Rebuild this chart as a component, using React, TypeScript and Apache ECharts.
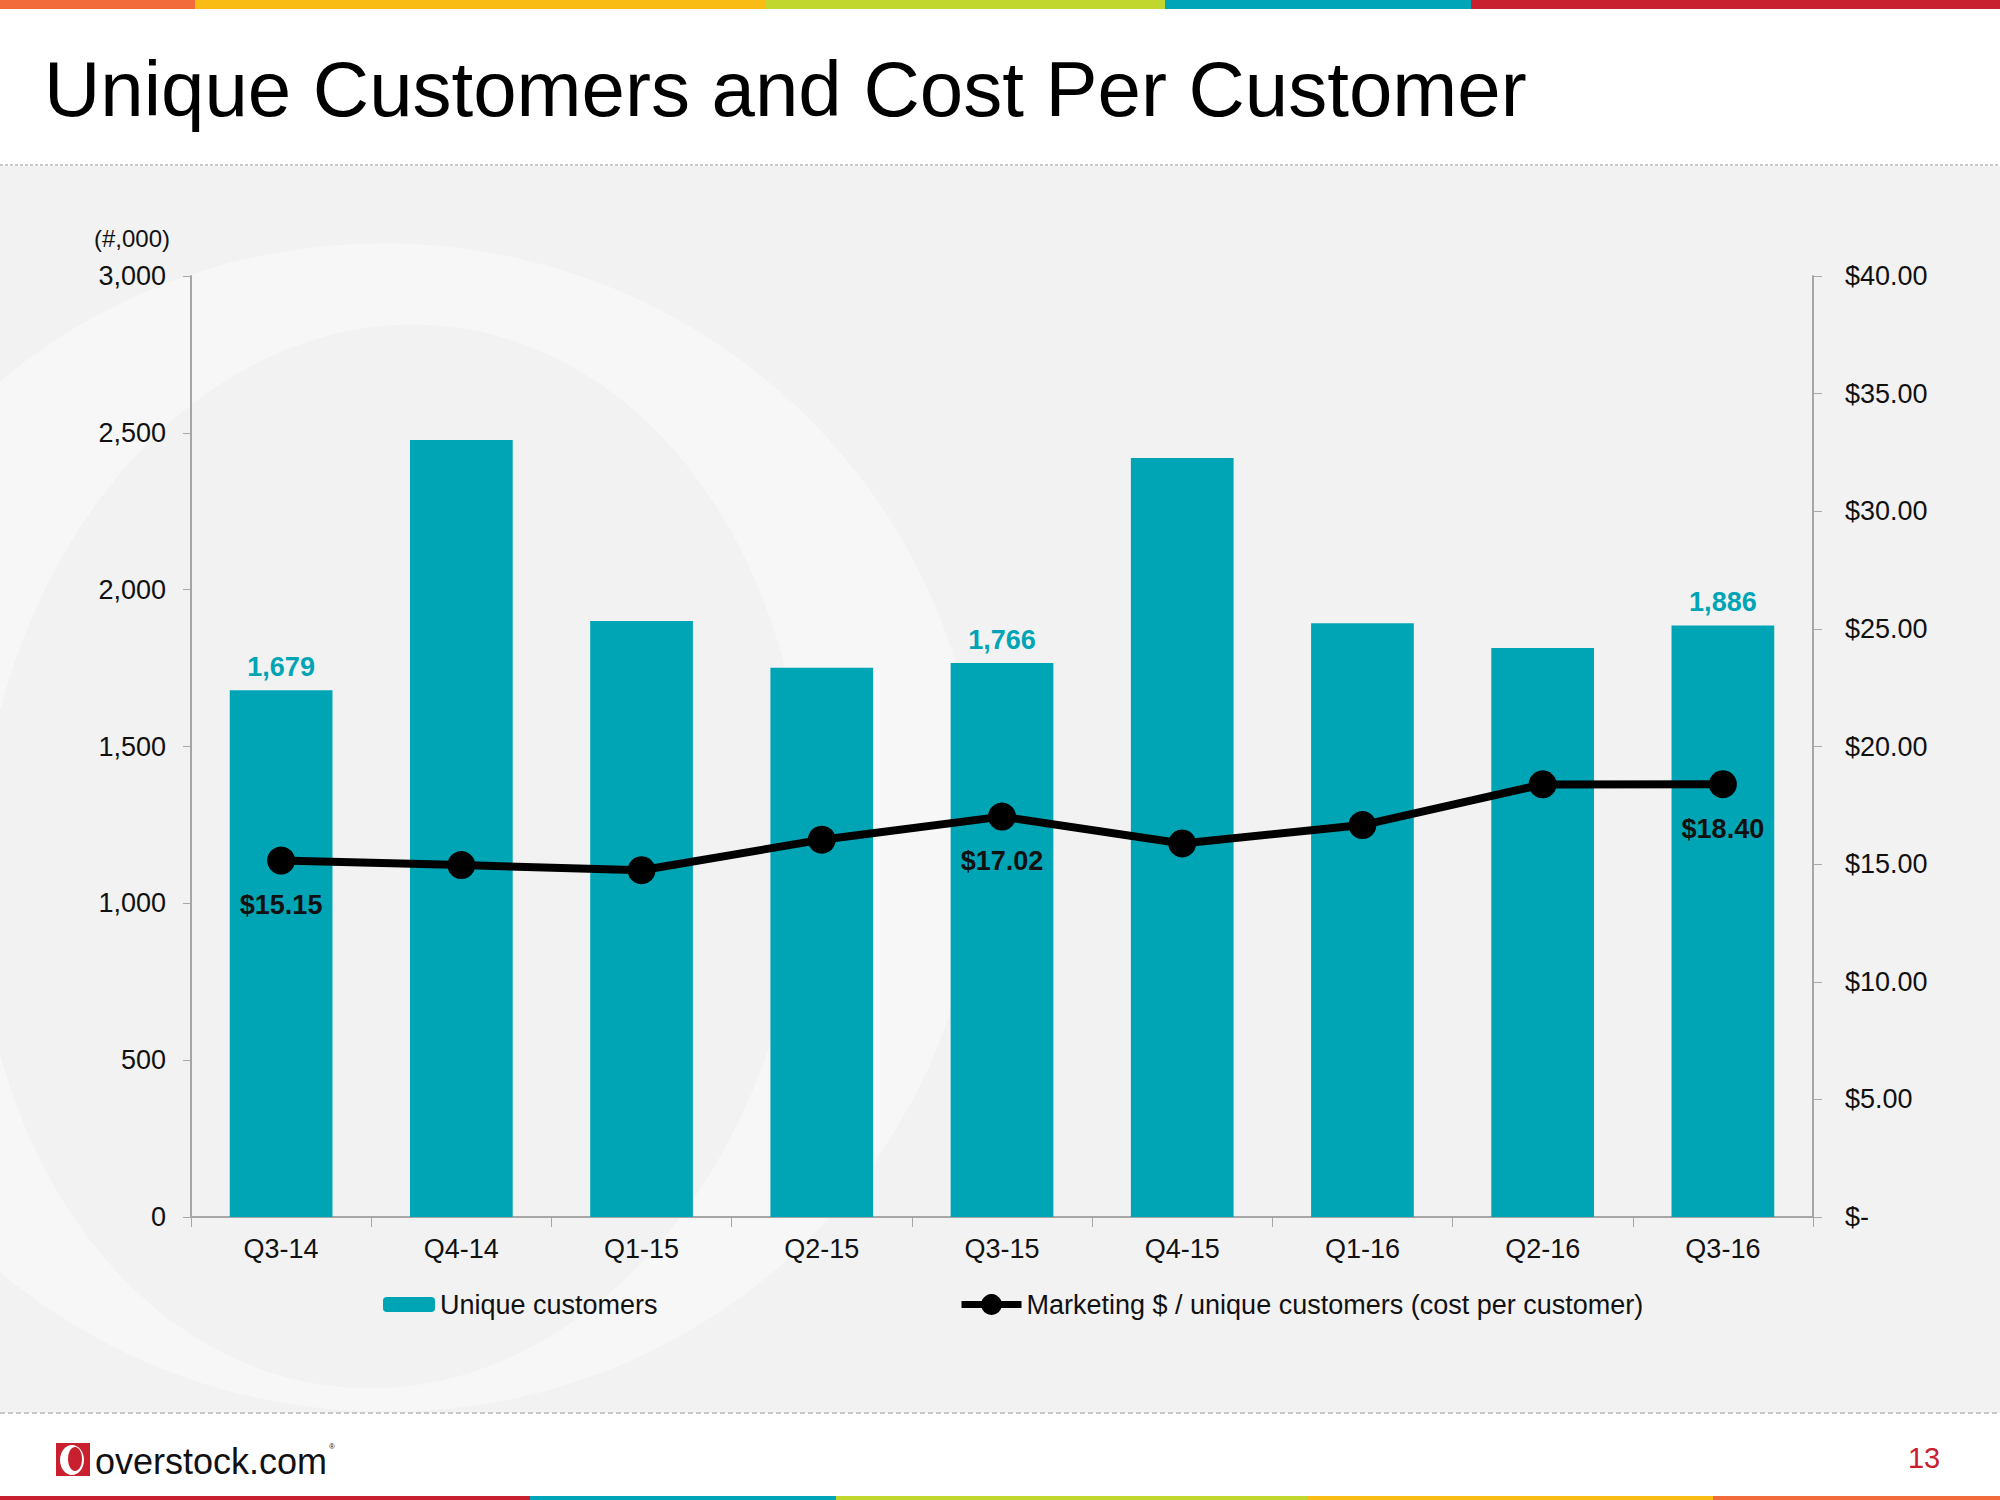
import React, { useEffect, useRef } from 'react';
import * as echarts from 'echarts';

const categories = ['Q3-14', 'Q4-14', 'Q1-15', 'Q2-15', 'Q3-15', 'Q4-15', 'Q1-16', 'Q2-16', 'Q3-16'];
const uniqueCustomers = [1679, 2477, 1900, 1751, 1766, 2420, 1893, 1814, 1886];
const costPerCustomer = [15.15, 14.96, 14.74, 16.04, 17.02, 15.88, 16.66, 18.39, 18.4];
const labeledIndices = [0, 4, 8];
const barName = 'Unique customers';
const lineName = 'Marketing $ / unique customers (cost per customer)';
const titleText = 'Unique Customers and Cost Per Customer';
const leftUnit = '(#,000)';
const pageNumber = '13';

const FONT = '"Liberation Sans", Arial, sans-serif';
const TEAL = '#00A5B5';
const AXIS = '#a6a6a6';

const topBar = [
  { x0: 0, x1: 195, c: '#F26B3A' },
  { x0: 195, x1: 766, c: '#F9BC15' },
  { x0: 766, x1: 1165, c: '#C1D72E' },
  { x0: 1165, x1: 1471, c: '#00A6B7' },
  { x0: 1471, x1: 2000, c: '#C8202F' },
];
const bottomBar = [
  { x0: 0, x1: 530, c: '#C8202F' },
  { x0: 530, x1: 836, c: '#00A6B7' },
  { x0: 836, x1: 1307, c: '#C1D72E' },
  { x0: 1307, x1: 1713, c: '#F9BC15' },
  { x0: 1713, x1: 2000, c: '#F26B3A' },
];

export default function App() {
  const ref = useRef<HTMLDivElement>(null);
  useEffect(() => {
    document.body.style.margin = '0';
    const chart = echarts.init(ref.current!, null, { renderer: 'svg' });
    const graphics: any[] = [
      { type: 'rect', z: -10, shape: { x: 0, y: 166, width: 2000, height: 1247 }, style: { fill: '#f2f2f2' } },
      { type: 'ellipse', z: -9, rotation: -0.08, shape: { cx: 450, cy: 794, rx: 595, ry: 584 }, style: { fill: '#f7f7f7' } },
      { type: 'ellipse', z: -8, rotation: -0.1, shape: { cx: 475, cy: 813, rx: 412, ry: 533 }, style: { fill: '#f2f2f2' } },
      { type: 'line', z: -7, shape: { x1: 0, y1: 165, x2: 2000, y2: 165 }, style: { stroke: '#c9c9c9', lineWidth: 2, lineDash: [3, 2] } },
      { type: 'rect', z: -7, shape: { x: 0, y: 1414, width: 2000, height: 86 }, style: { fill: '#ffffff' } },
      { type: 'line', z: -6, shape: { x1: 0, y1: 1413, x2: 2000, y2: 1413 }, style: { stroke: '#c9c9c9', lineWidth: 2, lineDash: [5, 3] } },
      ...topBar.map((s) => ({ type: 'rect', z: -5, shape: { x: s.x0, y: 0, width: s.x1 - s.x0, height: 9 }, style: { fill: s.c } })),
      ...bottomBar.map((s) => ({ type: 'rect', z: -5, shape: { x: s.x0, y: 1496, width: s.x1 - s.x0, height: 4 }, style: { fill: s.c } })),
      { type: 'rect', z: -5, shape: { x: 56, y: 1443, width: 34, height: 33 }, style: { fill: '#C8202F' } },
      { type: 'ellipse', z: -4, shape: { cx: 72, cy: 1460, rx: 12, ry: 15 }, style: { fill: '#ffffff' } },
      { type: 'ellipse', z: -3, shape: { cx: 75, cy: 1459, rx: 7, ry: 12 }, style: { fill: '#C8202F' } },
      { type: 'text', z: -3, x: 95, y: 1461, style: { text: 'overstock.com', font: '36px ' + FONT, fill: '#111', textVerticalAlign: 'middle' } },
      { type: 'text', z: -3, x: 329, y: 1446, style: { text: '®', font: '8px ' + FONT, fill: '#111', textVerticalAlign: 'middle' } },
      { type: 'text', z: -3, x: 1924, y: 1458, style: { text: pageNumber, font: '29px ' + FONT, fill: '#C8202F', textAlign: 'center', textVerticalAlign: 'middle' } },
    ];

    const option: any = {
      animation: false,
      backgroundColor: '#ffffff',
      textStyle: { fontFamily: FONT },
      title: {
        text: titleText,
        left: 39,
        top: 44,
        textStyle: { fontSize: 78, fontWeight: 'normal', color: '#000', fontFamily: FONT, lineHeight: 80 },
      },
      graphic: { elements: graphics },
      grid: { left: 191, right: 187, top: 276, bottom: 283, containLabel: false },
      legend: [
        {
          data: [barName],
          left: 378,
          top: 1286,
          itemWidth: 52,
          itemHeight: 15,
          textStyle: { fontSize: 27, color: '#111', fontFamily: FONT },
        },
        {
          data: [lineName],
          left: 953,
          top: 1286,
          itemWidth: 60,
          itemHeight: 26,
          lineStyle: { width: 7 },
          textStyle: { fontSize: 27, color: '#111', fontFamily: FONT },
        },
      ],
      xAxis: {
        type: 'category',
        data: categories,
        boundaryGap: true,
        axisLine: { show: true, lineStyle: { color: AXIS, width: 2 } },
        axisTick: { show: true, length: 10, lineStyle: { color: AXIS } },
        axisLabel: { fontSize: 27, color: '#111', margin: 18, fontFamily: FONT },
      },
      yAxis: [
        {
          type: 'value',
          min: 0,
          max: 3000,
          interval: 500,
          name: leftUnit,
          nameLocation: 'end',
          nameGap: 38,
          nameTextStyle: { fontSize: 24, color: '#111', align: 'right', verticalAlign: 'middle', padding: [0, 21, 0, 0], fontFamily: FONT },
          axisLine: { show: true, lineStyle: { color: AXIS, width: 2 } },
          axisTick: { show: true, length: 8, lineStyle: { color: AXIS } },
          splitLine: { show: false },
          axisLabel: {
            fontSize: 27,
            color: '#111',
            margin: 25,
            fontFamily: FONT,
            formatter: (v: number) => v.toLocaleString('en-US'),
          },
        },
        {
          type: 'value',
          position: 'right',
          min: 0,
          max: 40,
          interval: 5,
          axisLine: { show: true, lineStyle: { color: AXIS, width: 2 } },
          axisTick: { show: true, length: 9, lineStyle: { color: AXIS } },
          splitLine: { show: false },
          axisLabel: {
            fontSize: 27,
            color: '#111',
            margin: 32,
            fontFamily: FONT,
            formatter: (v: number) => (v === 0 ? '$-' : '$' + v.toFixed(2)),
          },
        },
      ],
      series: [
        {
          name: barName,
          type: 'bar',
          barWidth: '57%',
          itemStyle: { color: TEAL },
          label: {
            show: false,
            position: 'top',
            distance: 10,
            fontSize: 27,
            fontWeight: 'bold',
            color: TEAL,
            fontFamily: FONT,
            formatter: (p: any) => Number(p.value).toLocaleString('en-US'),
          },
          data: uniqueCustomers.map((v, i) => (labeledIndices.includes(i) ? { value: v, label: { show: true } } : v)),
        },
        {
          name: lineName,
          type: 'line',
          yAxisIndex: 1,
          symbol: 'circle',
          symbolSize: 28,
          lineStyle: { color: '#000', width: 8 },
          itemStyle: { color: '#000' },
          label: {
            show: false,
            position: 'bottom',
            distance: 17,
            fontSize: 27,
            fontWeight: 'bold',
            color: '#111',
            fontFamily: FONT,
            formatter: (p: any) => '$' + Number(p.value).toFixed(2),
          },
          data: costPerCustomer.map((v, i) => (labeledIndices.includes(i) ? { value: v, label: { show: true } } : v)),
        },
      ],
    };
    chart.setOption(option);
    return () => chart.dispose();
  }, []);
  return <div ref={ref} style={{ width: 2000, height: 1500 }} />;
}
